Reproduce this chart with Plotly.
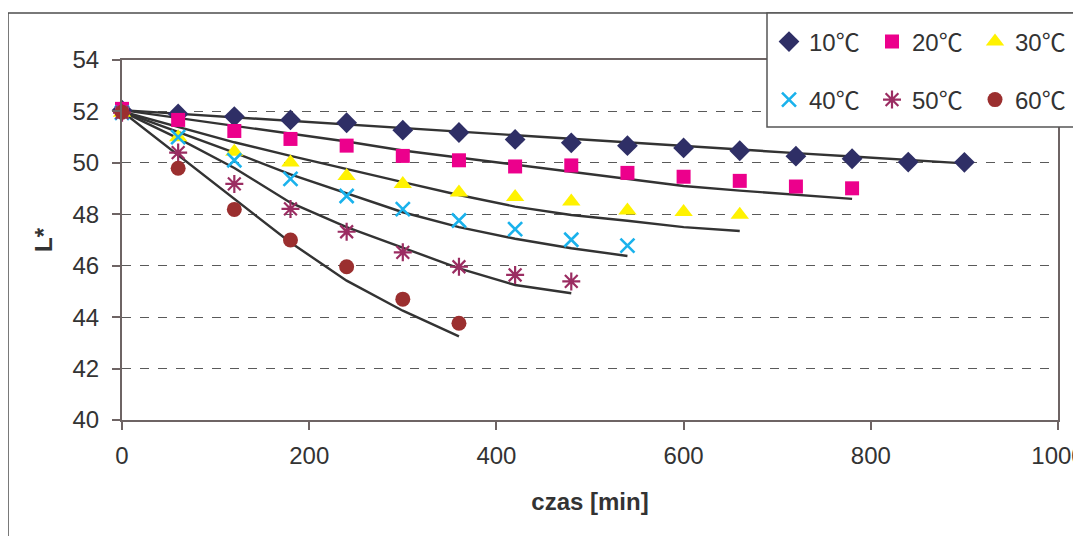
import plotly.graph_objects as go

# ---------------- data ----------------
t10 = [0, 60, 120, 180, 240, 300, 360, 420, 480, 540, 600, 660, 720, 780, 840, 900]
L10 = [52.05, 51.9, 51.8, 51.67, 51.56, 51.27, 51.18, 50.91, 50.78, 50.67, 50.58, 50.47, 50.26, 50.16, 50.03, 50.02]
F10 = [52.05, 51.91, 51.77, 51.63, 51.49, 51.34, 51.2, 51.06, 50.92, 50.79, 50.66, 50.52, 50.38, 50.25, 50.11, 49.98]

t20 = [0, 60, 120, 180, 240, 300, 360, 420, 480, 540, 600, 660, 720, 780]
L20 = [52.1, 51.67, 51.24, 50.93, 50.67, 50.27, 50.1, 49.86, 49.9, 49.61, 49.46, 49.3, 49.08, 49.01]
F20 = [52.05, 51.75, 51.45, 51.15, 50.83, 50.48, 50.2, 49.92, 49.65, 49.38, 49.1, 48.92, 48.76, 48.6]

t30 = [0, 60, 120, 180, 240, 300, 360, 420, 480, 540, 600, 660]
L30 = [51.95, 51.0, 50.43, 50.01, 49.49, 49.18, 48.85, 48.67, 48.5, 48.15, 48.09, 47.98]
F30 = [52.0, 51.4, 50.8, 50.27, 49.75, 49.25, 48.75, 48.3, 47.97, 47.75, 47.5, 47.35]

t40 = [0, 60, 120, 180, 240, 300, 360, 420, 480, 540]
L40 = [51.95, 51.0, 50.1, 49.38, 48.71, 48.2, 47.76, 47.42, 47.01, 46.78]
F40 = [52.0, 51.2, 50.4, 49.55, 48.8, 48.08, 47.5, 47.05, 46.68, 46.38]

t50 = [0, 60, 120, 180, 240, 300, 360, 420, 480]
L50 = [51.95, 50.4, 49.18, 48.21, 47.32, 46.52, 45.96, 45.64, 45.39]
F50 = [52.0, 50.95, 49.8, 48.45, 47.5, 46.7, 45.9, 45.25, 44.93]

t60 = [0, 60, 120, 180, 240, 300, 360]
L60 = [51.97, 49.79, 48.19, 47.0, 45.96, 44.7, 43.76]
F60 = [52.0, 50.3, 48.6, 46.9, 45.42, 44.25, 43.25]

names = ["10\u2103", "20\u2103", "30\u2103", "40\u2103", "50\u2103", "60\u2103"]
x_ticks = [0, 200, 400, 600, 800, 1000]
y_ticks = [40, 42, 44, 46, 48, 50, 52, 54]

# ---------------- styles ----------------
FONT = "Liberation Sans, Arial, sans-serif"
LEGFONT = "Liberation Sans, Noto Sans CJK JP, sans-serif"
TXT = "#333333"
FS = 24
styles = [
    dict(symbol="diamond", color="#2f2f66", size=16, lw=0),
    dict(symbol="square", color="#ec008c", size=14, lw=0),
    dict(symbol="triangle-up", color="#fff200", size=16, lw=0),
    dict(symbol="x-thin-open", color="#1ab2ec", size=14, lw=2.6),
    dict(symbol="asterisk-open", color="#9b2d62", size=15, lw=2.2),
    dict(symbol="circle", color="#9b2f2f", size=15, lw=0),
]
series = [(t10, L10, F10), (t20, L20, F20), (t30, L30, F30),
          (t40, L40, F40), (t50, L50, F50), (t60, L60, F60)]

fig = go.Figure()

# fitted lines
for (t, L, F) in series:
    fig.add_trace(go.Scatter(x=t, y=F, mode="lines",
                             line=dict(color="#333333", width=2.4),
                             showlegend=False, hoverinfo="skip"))

# measured points
for i, ((t, L, F), st, nm) in enumerate(zip(series, styles, names)):
    fig.add_trace(go.Scatter(
        x=t, y=L, mode="markers", name=nm,
        legend="legend" if i < 3 else "legend2",
        marker=dict(symbol=st["symbol"], color=st["color"], size=st["size"],
                    line=dict(width=st["lw"], color=st["color"])),
        cliponaxis=False,
    ))

# page body has an 8px default margin -> size the figure to fit the window
OFF = 8
W, H = 1081 - OFF, 536 - OFF
PL, PR, PT, PB = 122, 1058, 60, 420          # plot area in window pixels
ml, mt = PL - OFF, PT - OFF
mr, mb = W - (PR - OFF), H - (PB - OFF)
pw, ph = PR - PL, PB - PT

def px2x(px):
    return (px - PL) / pw

def py2y(py):
    return (PB - py) / ph

shapes = [
    # outer chart frame
    dict(type="rect", xref="paper", yref="paper",
         x0=px2x(8), x1=px2x(1095), y0=py2y(560), y1=py2y(13),
         line=dict(color="#4d4d4d", width=1.5), fillcolor="rgba(0,0,0,0)", layer="below"),
    # legend box
    dict(type="rect", xref="paper", yref="paper",
         x0=px2x(767), x1=px2x(1079), y0=py2y(127), y1=py2y(13),
         line=dict(color="#555555", width=1.5), fillcolor="white", layer="above"),
]

leg_common = dict(orientation="h", xanchor="left", yanchor="middle",
                  bgcolor="rgba(0,0,0,0)", borderwidth=0,
                  font=dict(size=FS, color=TXT, family=LEGFONT),
                  entrywidth=58, entrywidthmode="pixels", itemwidth=30, tracegroupgap=0)

fig.update_layout(
    width=W, height=H,
    margin=dict(l=ml, r=mr, t=mt, b=mb, autoexpand=False),
    paper_bgcolor="white", plot_bgcolor="white",
    font=dict(family=FONT, size=FS, color=TXT),
    shapes=shapes,
    legend=dict(x=px2x(769), y=py2y(42), **leg_common),
    legend2=dict(x=px2x(769), y=py2y(100), **leg_common),
    xaxis=dict(range=[0, 1000], tickvals=x_ticks, ticktext=[str(v) for v in x_ticks],
               showgrid=False, zeroline=False, automargin=False, ticklabeloverflow="allow",
               showline=True, linecolor="#6e6464", linewidth=2, mirror=True,
               ticks="outside", ticklen=8, tickcolor="#6e6464", tickwidth=1.5,
               tickfont=dict(size=FS, color=TXT), ticklabelstandoff=5,
               title=dict(text="<b>czas [min]</b>", font=dict(size=FS, color=TXT), standoff=25)),
    yaxis=dict(range=[40, 54], tickvals=y_ticks, ticktext=[str(v) for v in y_ticks],
               showgrid=True, gridcolor="#5a5a5a", griddash="dash", gridwidth=1,
               zeroline=False, automargin=False, ticklabeloverflow="allow",
               showline=True, linecolor="#6e6464", linewidth=2, mirror=True,
               ticks="outside", ticklen=8, tickcolor="#6e6464", tickwidth=1.5,
               tickfont=dict(size=FS, color=TXT), ticklabelstandoff=8,
               title=dict(text="<b>L*</b>", font=dict(size=FS, color=TXT), standoff=13)),
)

fig.write_html("out.html")
